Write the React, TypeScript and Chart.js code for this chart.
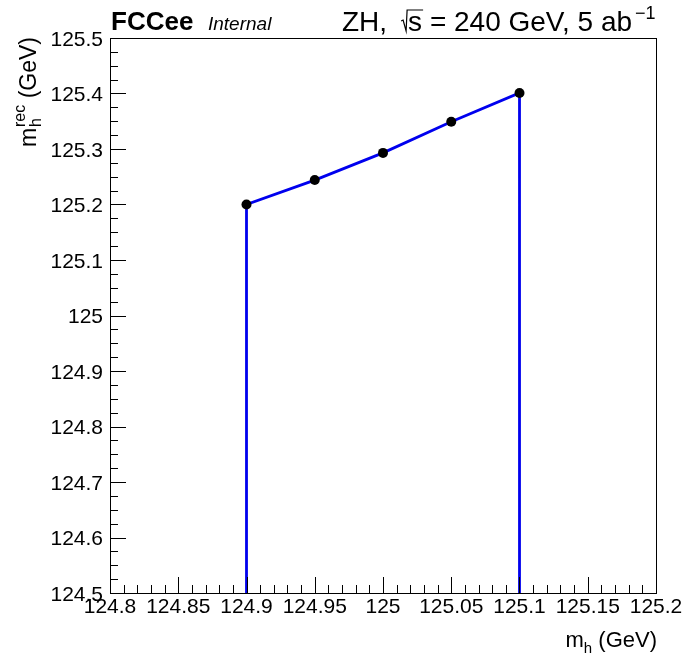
import React, { useEffect, useRef } from "react";
import { Chart, registerables } from "chart.js";

Chart.register(...registerables);

// ---- data ----
const massTrue = [124.9, 124.95, 125.0, 125.05, 125.1];
const massRec = [125.2, 125.244, 125.293, 125.349, 125.401];

const xRange = [124.8, 125.2];
const yRange = [124.5, 125.5];

const xTickLabels = ["124.8", "124.85", "124.9", "124.95", "125", "125.05", "125.1", "125.15", "125.2"];
const yTickLabels = ["124.5", "124.6", "124.7", "124.8", "124.9", "125", "125.1", "125.2", "125.3", "125.4", "125.5"];
const xMinorDiv = 5;
const yMinorDiv = 4;

const FONT = '"Liberation Sans", Arial, Helvetica, sans-serif';
const LINE_BLUE = "#0000ee";

const rootPlugin = {
  id: "rootStyle",
  afterDraw(chart: any) {
    const { ctx, chartArea: a, scales } = chart;
    const xs = scales.x;
    const ys = scales.y;
    const L = Math.round(a.left);
    const R = Math.round(a.right);
    const T = Math.round(a.top);
    const B = Math.round(a.bottom);
    ctx.save();
    ctx.strokeStyle = "#000";
    ctx.lineWidth = 1;
    ctx.strokeRect(L + 0.5, T + 0.5, R - L, B - T);

    const seg = (x1: number, y1: number, x2: number, y2: number) => {
      ctx.beginPath();
      ctx.moveTo(x1, y1);
      ctx.lineTo(x2, y2);
      ctx.stroke();
    };

    // x ticks (inward, bottom axis)
    const xMaj = xTickLabels.map(Number);
    for (let i = 0; i < xMaj.length; i++) {
      const px = Math.round(xs.getPixelForValue(xMaj[i])) + 0.5;
      seg(px, B, px, B - 16);
      if (i < xMaj.length - 1) {
        const st = xMaj[i + 1] - xMaj[i];
        for (let k = 1; k < xMinorDiv; k++) {
          const mx = Math.round(xs.getPixelForValue(xMaj[i] + (st * k) / xMinorDiv)) + 0.5;
          seg(mx, B, mx, B - 8);
        }
      }
    }
    // y ticks (inward, left axis)
    const yMaj = yTickLabels.map(Number);
    for (let i = 0; i < yMaj.length; i++) {
      const py = Math.round(ys.getPixelForValue(yMaj[i])) + 0.5;
      seg(L, py, L + 16, py);
      if (i < yMaj.length - 1) {
        const st = yMaj[i + 1] - yMaj[i];
        for (let k = 1; k < yMinorDiv; k++) {
          const my = Math.round(ys.getPixelForValue(yMaj[i] + (st * k) / yMinorDiv)) + 0.5;
          seg(L, my, L + 8, my);
        }
      }
    }

    // tick labels
    ctx.fillStyle = "#000";
    ctx.font = `21px ${FONT}`;
    ctx.textBaseline = "alphabetic";
    ctx.textAlign = "center";
    xTickLabels.forEach((t, i) => {
      ctx.fillText(t, xs.getPixelForValue(xMaj[i]), B + 20);
    });
    ctx.textAlign = "right";
    yTickLabels.forEach((t, i) => {
      ctx.fillText(t, L - 7, ys.getPixelForValue(yMaj[i]) + 7.5);
    });

    // x title: m_h (GeV)
    ctx.textAlign = "left";
    {
      const big = `22px ${FONT}`;
      const small = `15px ${FONT}`;
      ctx.font = big;
      const wm = ctx.measureText("m").width;
      const wr = ctx.measureText(" (GeV)").width;
      ctx.font = small;
      const wh = ctx.measureText("h").width;
      const total = wm + wh + wr;
      let x = R + 1 - total;
      const base = 647;
      ctx.font = big;
      ctx.fillText("m", x, base);
      x += wm;
      ctx.font = small;
      ctx.fillText("h", x, base + 6);
      x += wh;
      ctx.font = big;
      ctx.fillText(" (GeV)", x, base);
    }

    // y title: m_h^rec (GeV), rotated
    {
      const big = `23px ${FONT}`;
      const small = `16px ${FONT}`;
      ctx.save();
      ctx.translate(36, T);
      ctx.rotate(-Math.PI / 2);
      ctx.font = big;
      const wm = ctx.measureText("m").width;
      const wr = ctx.measureText(" (GeV)").width;
      ctx.font = small;
      const ws = Math.max(ctx.measureText("rec").width, ctx.measureText("h").width);
      const total = wm + ws + wr;
      let x = -total;
      ctx.font = big;
      ctx.fillText("m", x, 0);
      x += wm;
      ctx.font = small;
      ctx.fillText("rec", x + 1, -11);
      ctx.fillText("h", x + 1, 5);
      x += ws + 1;
      ctx.font = big;
      ctx.fillText(" (GeV)", x, 0);
      ctx.restore();
    }

    // top-left label
    {
      const base = 30;
      ctx.font = `bold 26px ${FONT}`;
      ctx.fillText("FCCee", 111, base);
      ctx.font = `italic 19px ${FONT}`;
      ctx.fillText("Internal", 208, base);
    }

    // top-right label: ZH, sqrt(s) = 240 GeV, 5 ab^-1
    {
      const base = 31;
      const big = `28px ${FONT}`;
      ctx.font = big;
      let x = 342;
      ctx.fillText("ZH,", x, base);
      x += ctx.measureText("ZH,").width + 14;
      // radical sign
      const sw = ctx.measureText("s").width;
      ctx.lineWidth = 1.2;
      ctx.beginPath();
      ctx.moveTo(x, base - 10);
      ctx.lineTo(x + 2, base - 11);
      ctx.lineTo(x + 5, base);
      ctx.lineTo(x + 6, base - 21);
      ctx.lineTo(x + 7 + sw + 1, base - 21);
      ctx.stroke();
      x += 7;
      ctx.fillText("s", x, base);
      x += sw;
      const rest = " = 240 GeV, 5 ab";
      ctx.fillText(rest, x, base);
      x += ctx.measureText(rest).width + 3;
      ctx.font = `18px ${FONT}`;
      ctx.fillText("\u22121", x, base - 12);
    }
    ctx.restore();
  },
};

export default function App() {
  const ref = useRef<HTMLCanvasElement>(null);
  useEffect(() => {
    document.body.style.margin = "0";
    const canvas = ref.current!;
    const outline = [
      { x: massTrue[0], y: yRange[0] },
      ...massTrue.map((v, i) => ({ x: v, y: massRec[i] })),
      { x: massTrue[massTrue.length - 1], y: yRange[0] },
    ];
    const points = massTrue.map((v, i) => ({ x: v, y: massRec[i] }));
    const chart = new Chart(canvas, {
      type: "scatter",
      data: {
        datasets: [
          {
            data: points,
            showLine: false,
            pointRadius: 5,
            pointBackgroundColor: "#000",
            pointBorderColor: "#000",
            pointBorderWidth: 0,
            order: 1,
          },
          {
            data: outline,
            showLine: true,
            borderColor: LINE_BLUE,
            borderWidth: 2.8,
            pointRadius: 0,
            fill: false,
            tension: 0,
            order: 2,
          },
        ],
      },
      options: {
        animation: false,
        responsive: false,
        devicePixelRatio: 1,
        layout: { padding: { left: 110, top: 38, right: 29, bottom: 67 } },
        plugins: { legend: { display: false }, tooltip: { enabled: false } },
        scales: {
          x: { type: "linear", min: xRange[0], max: xRange[1], display: false },
          y: { type: "linear", min: yRange[0], max: yRange[1], display: false },
        },
      },
      plugins: [rootPlugin],
    });
    return () => chart.destroy();
  }, []);
  return <canvas ref={ref} width={685} height={660} style={{ display: "block" }} />;
}
